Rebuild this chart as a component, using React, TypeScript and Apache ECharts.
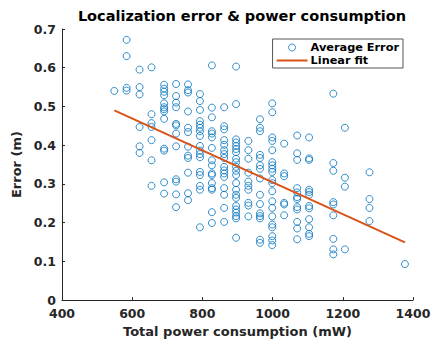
import React, { useEffect, useRef } from "react";
import * as echarts from "echarts";

// Power levels (mW) of the measurement columns
const powerLevels: number[] = [
  549, 584, 621, 655, 691, 725, 759, 793, 827, 862, 896, 931, 964, 999, 1033,
  1070, 1104, 1173, 1206, 1276, 1377,
];

// Average error (m) observed at each power level
const errorAt549 = [0.54];
const errorAt584 = [0.672, 0.63, 0.548, 0.541];
const errorAt621 = [0.595, 0.55, 0.531, 0.447, 0.397, 0.38];
const errorAt655 = [0.601, 0.48, 0.457, 0.447, 0.413, 0.361, 0.295];
const errorAt691 = [0.556, 0.546, 0.538, 0.529, 0.508, 0.498, 0.493, 0.487, 0.468, 0.391, 0.386, 0.304, 0.275];
const errorAt725 = [0.558, 0.527, 0.51, 0.498, 0.455, 0.451, 0.43, 0.397, 0.312, 0.306, 0.273, 0.24];
const errorAt759 = [0.557, 0.542, 0.536, 0.487, 0.445, 0.434, 0.396, 0.373, 0.367, 0.329, 0.276, 0.258];
const errorAt793 = [0.532, 0.514, 0.491, 0.462, 0.453, 0.445, 0.436, 0.424, 0.398, 0.386, 0.377, 0.369, 0.331, 0.323, 0.295, 0.285, 0.188];
const errorAt827 = [0.606, 0.497, 0.472, 0.436, 0.43, 0.42, 0.393, 0.361, 0.348, 0.327, 0.323, 0.302, 0.289, 0.285, 0.227, 0.199];
const errorAt862 = [0.498, 0.449, 0.441, 0.413, 0.401, 0.387, 0.377, 0.367, 0.344, 0.335, 0.327, 0.318, 0.289, 0.272, 0.238, 0.202];
const errorAt896 = [0.603, 0.506, 0.415, 0.407, 0.398, 0.39, 0.382, 0.365, 0.356, 0.344, 0.334, 0.323, 0.302, 0.285, 0.272, 0.264, 0.243, 0.234, 0.226, 0.217, 0.211, 0.161];
const errorAt931 = [0.411, 0.387, 0.365, 0.329, 0.306, 0.295, 0.285, 0.251, 0.244, 0.216];
const errorAt964 = [0.467, 0.445, 0.436, 0.375, 0.367, 0.348, 0.339, 0.314, 0.272, 0.248, 0.224, 0.217, 0.211, 0.156, 0.148];
const errorAt999 = [0.508, 0.485, 0.42, 0.411, 0.387, 0.356, 0.348, 0.339, 0.331, 0.31, 0.302, 0.281, 0.255, 0.238, 0.216, 0.195, 0.188, 0.165, 0.154, 0.142];
const errorAt1033 = [0.404, 0.327, 0.32, 0.251, 0.247, 0.219];
const errorAt1070 = [0.425, 0.379, 0.362, 0.289, 0.278, 0.266, 0.261, 0.24, 0.234, 0.202, 0.185, 0.157];
const errorAt1104 = [0.42, 0.366, 0.362, 0.285, 0.279, 0.272, 0.243, 0.237, 0.209, 0.188, 0.171, 0.165];
const errorAt1173 = [0.533, 0.354, 0.334, 0.253, 0.247, 0.219, 0.158, 0.131, 0.118];
const errorAt1206 = [0.445, 0.316, 0.293, 0.131];
const errorAt1276 = [0.33, 0.261, 0.238, 0.204];
const errorAt1377 = [0.093];

const errorsByLevel: number[][] = [
  errorAt549, errorAt584, errorAt621, errorAt655, errorAt691, errorAt725,
  errorAt759, errorAt793, errorAt827, errorAt862, errorAt896, errorAt931,
  errorAt964, errorAt999, errorAt1033, errorAt1070, errorAt1104, errorAt1173,
  errorAt1206, errorAt1276, errorAt1377,
];

// Linear fit end points
const fitPower = [549, 1377];
const fitError = [0.49, 0.149];

const xTicks = [400, 600, 800, 1000, 1200, 1400];
const yTicks = [0, 0.1, 0.2, 0.3, 0.4, 0.5, 0.6, 0.7];

const FONT = "DejaVu Sans";
const AX = "#262626";

export default function App() {
  const ref = useRef<HTMLDivElement>(null);

  useEffect(() => {
    if (!ref.current) return;
    const chart = echarts.init(ref.current, undefined, { renderer: "svg" });

    const scatterData: number[][] = [];
    powerLevels.forEach((p, i) => {
      errorsByLevel[i].forEach((e) => scatterData.push([p, e]));
    });
    const fitData = fitPower.map((p, i) => [p, fitError[i]]);

    chart.setOption({
      animation: false,
      backgroundColor: "#ffffff",
      textStyle: { fontFamily: FONT },
      title: {
        text: "Localization error & power consumption",
        left: 237,
        textAlign: "center",
        top: 3,
        textStyle: { fontFamily: FONT, fontWeight: "bold", fontSize: 14.5, color: "#000" },
      },
      grid: { left: 62, right: 21, top: 29, bottom: 37, containLabel: false },
      legend: {
        right: 31,
        top: 39,
        orient: "vertical",
        itemWidth: 31,
        itemHeight: 7,
        itemGap: 2,
        padding: [3, 4, 2, 4],
        backgroundColor: "#fff",
        borderColor: "#555",
        borderWidth: 1,
        borderRadius: 0,
        textStyle: { fontFamily: FONT, fontWeight: "bold", fontSize: 11.3, color: "#000", padding: [0, 0, 0, -2] },
        data: [
          {
            name: "Average Error",
            icon: "circle",
            itemStyle: { color: "rgba(0,0,0,0)", borderColor: "#0072BD", borderWidth: 1 },
          },
          {
            name: "Linear fit",
            icon: "path://M0,0h0.01v0.01h-0.01z M0,2.5h31v2h-31z M0,6.99h0.01v0.01h-0.01z",
            itemStyle: { color: "#D95319" },
          },
        ],
      },
      xAxis: {
        type: "value",
        min: xTicks[0],
        max: xTicks[xTicks.length - 1],
        interval: 200,
        splitLine: { show: false },
        axisLine: { show: true, lineStyle: { color: AX, width: 1 } },
        axisTick: { show: true, inside: true, length: 3, lineStyle: { color: AX } },
        axisLabel: {
          fontFamily: FONT,
          fontWeight: "bold",
          fontSize: 12.5,
          color: AX,
          margin: 7,
          formatter: (v: number) => String(v),
        },
        name: "Total power consumption (mW)",
        nameLocation: "middle",
        nameGap: 23,
        nameTextStyle: { fontFamily: FONT, fontWeight: "bold", fontSize: 13, color: AX },
      },
      yAxis: {
        type: "value",
        min: yTicks[0],
        max: yTicks[yTicks.length - 1],
        interval: 0.1,
        splitLine: { show: false },
        axisLine: { show: true, lineStyle: { color: AX, width: 1 } },
        axisTick: { show: true, inside: true, length: 3, lineStyle: { color: AX } },
        axisLabel: {
          fontFamily: FONT,
          fontWeight: "bold",
          fontSize: 12.5,
          color: AX,
          margin: 6,
          formatter: (v: number) => String(Math.round(v * 10) / 10),
        },
        name: "Error (m)",
        nameLocation: "middle",
        nameGap: 34,
        nameTextStyle: { fontFamily: FONT, fontWeight: "bold", fontSize: 13, color: AX },
      },
      series: [
        {
          name: "Average Error",
          type: "scatter",
          symbol: "circle",
          symbolSize: 7,
          data: scatterData,
          itemStyle: { color: "rgba(0,0,0,0)", borderColor: "#0072BD", borderWidth: 1 },
          emphasis: { disabled: true },
        },
        {
          name: "Linear fit",
          type: "line",
          data: fitData,
          symbol: "none",
          lineStyle: { color: "#D95319", width: 2 },
          itemStyle: { color: "#D95319" },
          emphasis: { disabled: true },
        },
      ],
    });

    return () => chart.dispose();
  }, []);

  return <div ref={ref} style={{ width: 434, height: 343, position: "absolute", left: 0, top: 0 }} />;
}
